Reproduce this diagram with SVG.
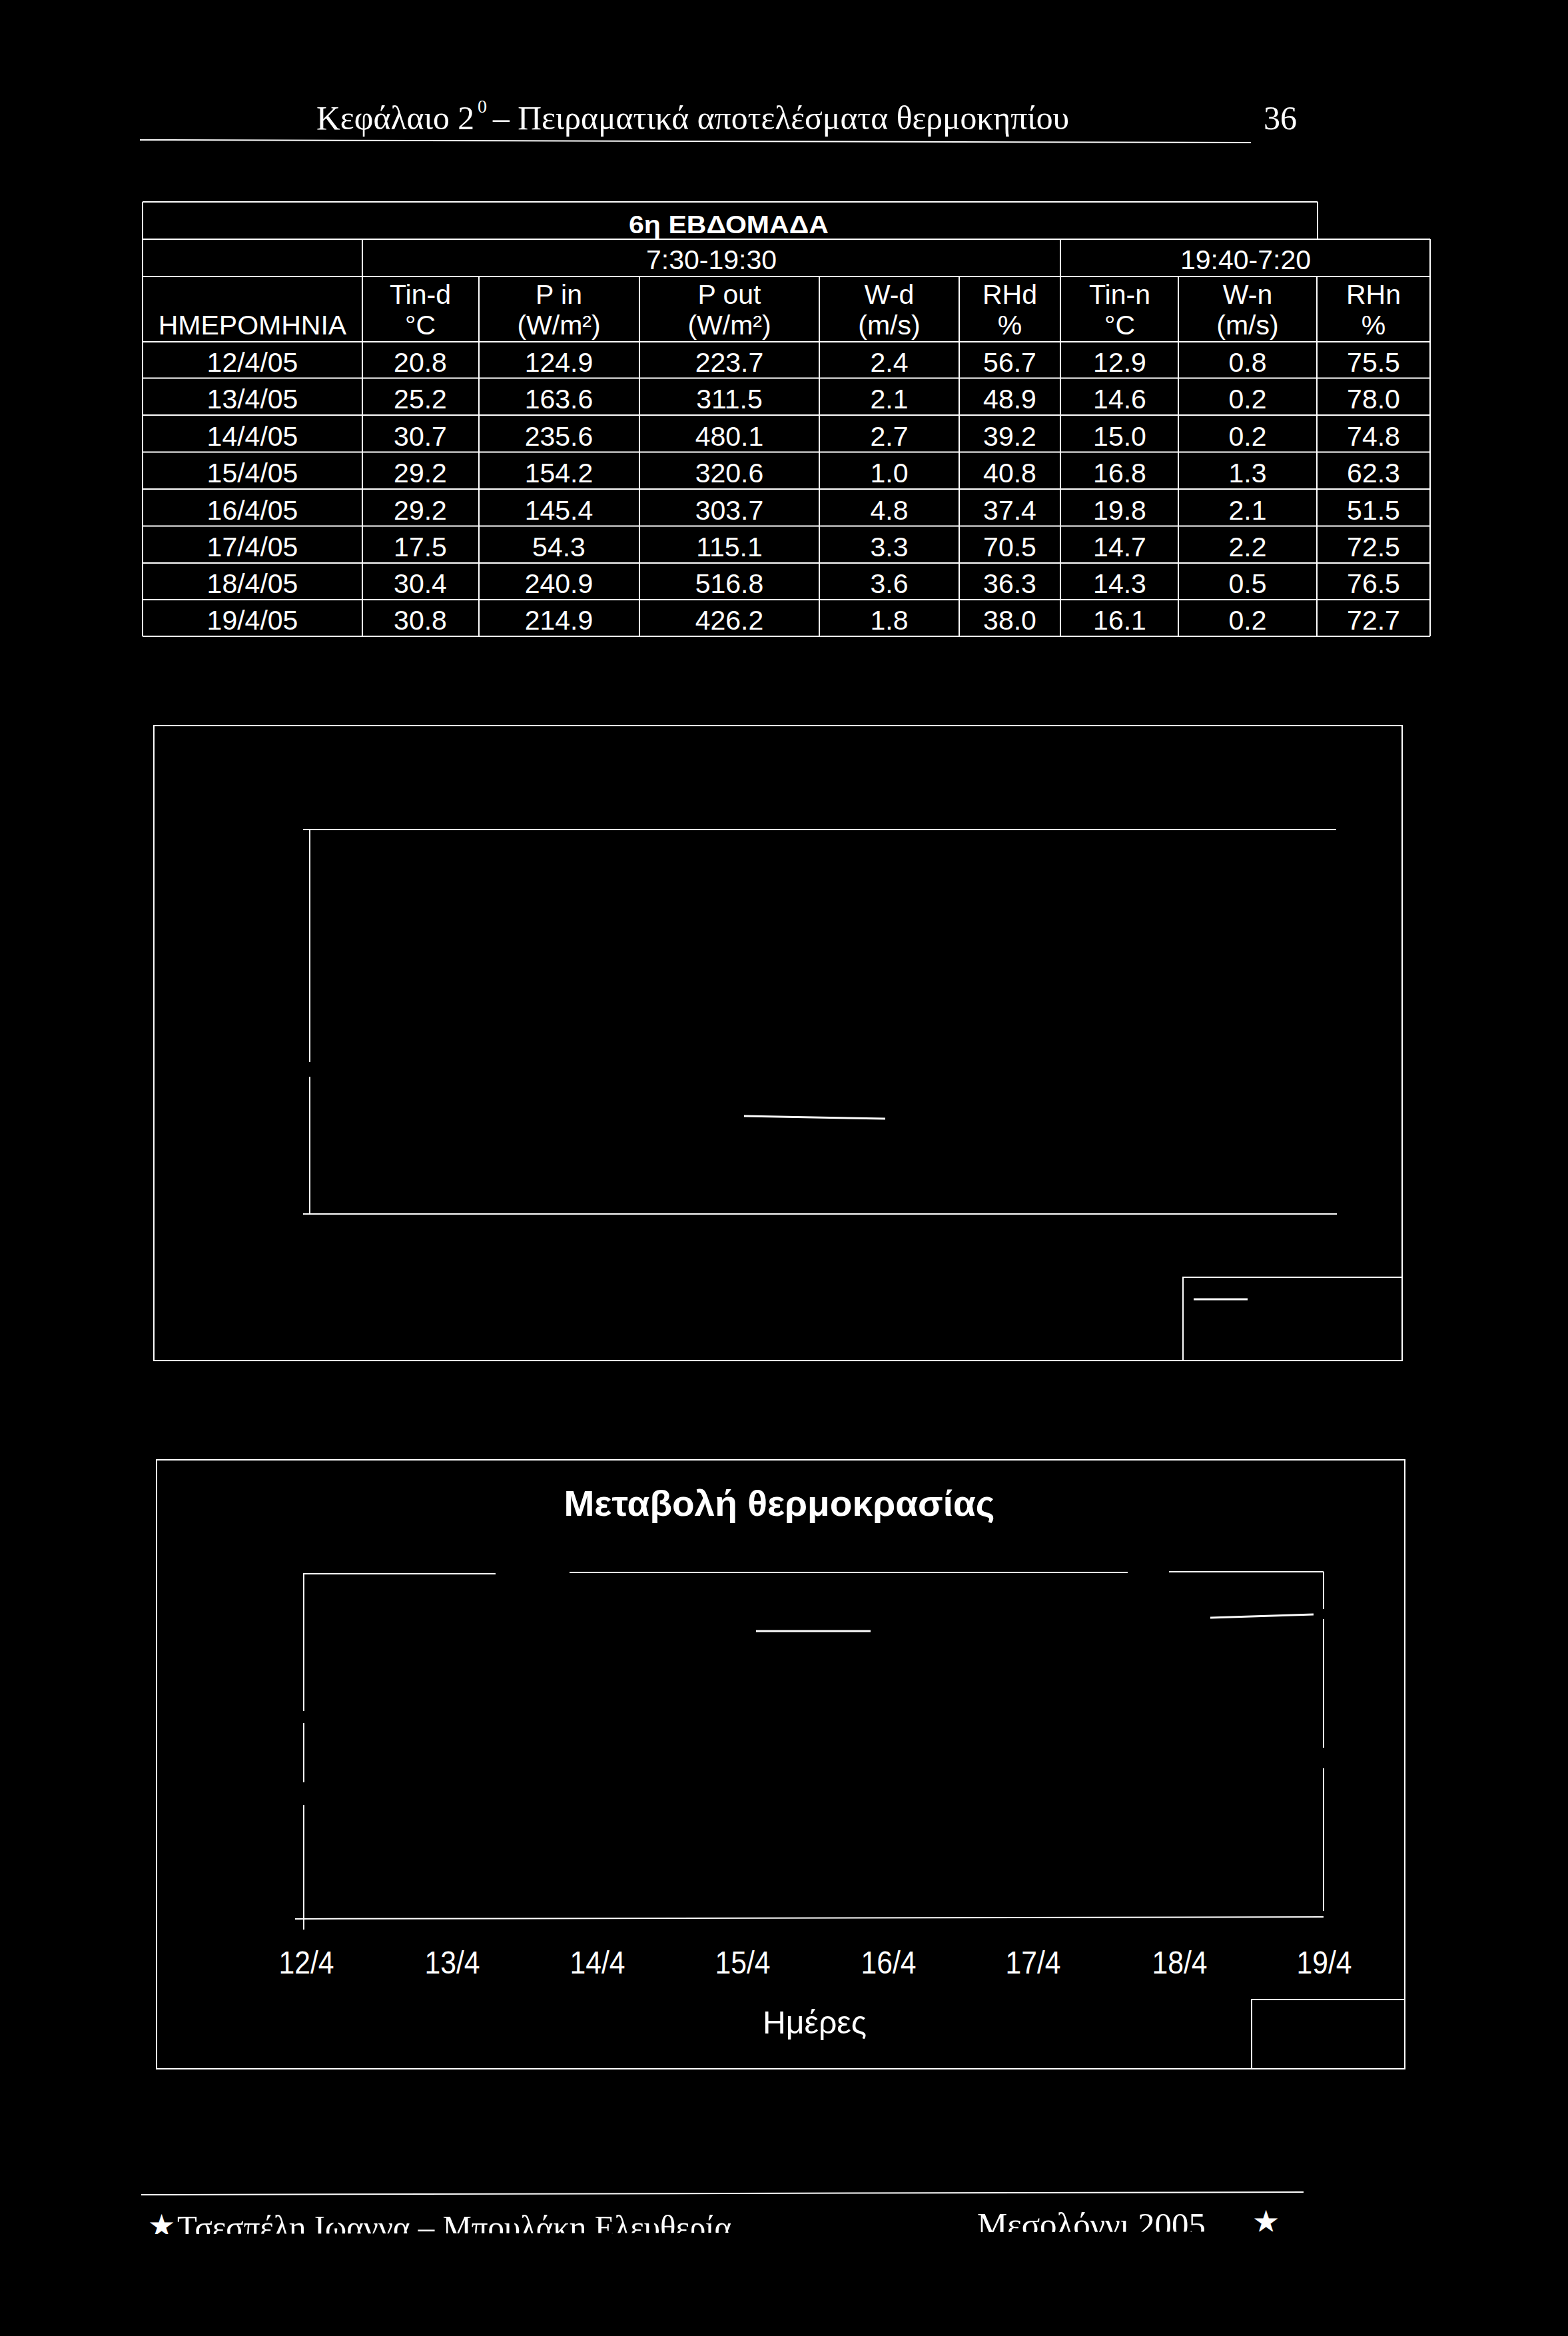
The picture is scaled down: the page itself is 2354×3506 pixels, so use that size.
<svg xmlns="http://www.w3.org/2000/svg" width="2354" height="3506" viewBox="0 0 2354 3506">
<style>
.ln{stroke:#fff;stroke-width:2;fill:none}
.ln3{stroke:#fff;stroke-width:3;fill:none}
.serif{font-family:"Liberation Serif","Times New Roman",serif;fill:#fff}
.t{font-family:"Liberation Sans",Arial,sans-serif;fill:#fff;font-size:41px;text-anchor:middle}
.tb{font-family:"Liberation Sans",Arial,sans-serif;fill:#fff;font-weight:bold;text-anchor:middle}
.ax{font-family:"Liberation Sans",Arial,sans-serif;fill:#fff;font-size:48px}
.star{font-family:"DejaVu Sans",sans-serif;fill:#fff;font-size:46px}
</style>
<defs>
<clipPath id="footclip"><polygon points="200,3270 2000,3270 2000,3349 200,3353"/></clipPath>
</defs>
<rect x="0" y="0" width="2354" height="3506" fill="#000"/>

<g id="page-header">
<text class="serif" x="475" y="194" font-size="50" textLength="237" lengthAdjust="spacingAndGlyphs">Κεφάλαιο 2</text>
<text class="serif" x="717" y="169" font-size="28">0</text>
<text class="serif" x="740" y="194" font-size="50" textLength="865" lengthAdjust="spacingAndGlyphs">– Πειραματικά αποτελέσματα θερμοκηπίου</text>
<text class="serif" x="1897" y="194" font-size="50">36</text>
<line class="ln" x1="210" y1="210" x2="1878" y2="214" stroke-width="3"/>
</g>

<g id="table">
<g id="table-grid">
<line class="ln" x1="214" y1="303" x2="1978" y2="303"/>
<line class="ln" x1="214" y1="359" x2="2147" y2="359"/>
<line class="ln" x1="214" y1="415" x2="2147" y2="415"/>
<line class="ln" x1="214" y1="513" x2="2147" y2="513"/>
<line class="ln" x1="214" y1="567.5" x2="2147" y2="567.5"/>
<line class="ln" x1="214" y1="623" x2="2147" y2="623"/>
<line class="ln" x1="214" y1="678.5" x2="2147" y2="678.5"/>
<line class="ln" x1="214" y1="734" x2="2147" y2="734"/>
<line class="ln" x1="214" y1="789.5" x2="2147" y2="789.5"/>
<line class="ln" x1="214" y1="845" x2="2147" y2="845"/>
<line class="ln" x1="214" y1="900" x2="2147" y2="900"/>
<line class="ln" x1="214" y1="955" x2="2147" y2="955"/>
<line class="ln" x1="214" y1="303" x2="214" y2="955"/>
<line class="ln" x1="1978" y1="303" x2="1978" y2="359"/>
<line class="ln" x1="2147" y1="359" x2="2147" y2="955"/>
<line class="ln" x1="544" y1="359" x2="544" y2="955"/>
<line class="ln" x1="1592" y1="359" x2="1592" y2="955"/>
<line class="ln" x1="719" y1="415" x2="719" y2="955"/>
<line class="ln" x1="960" y1="415" x2="960" y2="955"/>
<line class="ln" x1="1230" y1="415" x2="1230" y2="955"/>
<line class="ln" x1="1440" y1="415" x2="1440" y2="955"/>
<line class="ln" x1="1769" y1="415" x2="1769" y2="955"/>
<line class="ln" x1="1977" y1="415" x2="1977" y2="955"/>
</g>
<g id="table-head">
<text class="tb" x="1094" y="350" font-size="37" textLength="300" lengthAdjust="spacingAndGlyphs">6η ΕΒΔΟΜΑΔΑ</text>
<text class="t" x="1068" y="404">7:30-19:30</text>
<text class="t" x="1870" y="404">19:40-7:20</text>
<text class="t" x="379" y="502">ΗΜΕΡΟΜΗΝΙΑ</text>
<text class="t" x="631" y="456">Tin-d</text><text class="t" x="631" y="502">°C</text>
<text class="t" x="839" y="456">P in</text><text class="t" x="839" y="502">(W/m²)</text>
<text class="t" x="1095" y="456">P out</text><text class="t" x="1095" y="502">(W/m²)</text>
<text class="t" x="1335" y="456">W-d</text><text class="t" x="1335" y="502">(m/s)</text>
<text class="t" x="1516" y="456">RHd</text><text class="t" x="1516" y="502">%</text>
<text class="t" x="1681" y="456">Tin-n</text><text class="t" x="1681" y="502">°C</text>
<text class="t" x="1873" y="456">W-n</text><text class="t" x="1873" y="502">(m/s)</text>
<text class="t" x="2062" y="456">RHn</text><text class="t" x="2062" y="502">%</text>
</g>
<g id="table-body">
<g transform="translate(0,557.5)">
<text class="t" x="379">12/4/05</text><text class="t" x="631">20.8</text><text class="t" x="839">124.9</text><text class="t" x="1095">223.7</text><text class="t" x="1335">2.4</text><text class="t" x="1516">56.7</text><text class="t" x="1681">12.9</text><text class="t" x="1873">0.8</text><text class="t" x="2062">75.5</text>
</g>
<g transform="translate(0,613)">
<text class="t" x="379">13/4/05</text><text class="t" x="631">25.2</text><text class="t" x="839">163.6</text><text class="t" x="1095">311.5</text><text class="t" x="1335">2.1</text><text class="t" x="1516">48.9</text><text class="t" x="1681">14.6</text><text class="t" x="1873">0.2</text><text class="t" x="2062">78.0</text>
</g>
<g transform="translate(0,668.5)">
<text class="t" x="379">14/4/05</text><text class="t" x="631">30.7</text><text class="t" x="839">235.6</text><text class="t" x="1095">480.1</text><text class="t" x="1335">2.7</text><text class="t" x="1516">39.2</text><text class="t" x="1681">15.0</text><text class="t" x="1873">0.2</text><text class="t" x="2062">74.8</text>
</g>
<g transform="translate(0,724)">
<text class="t" x="379">15/4/05</text><text class="t" x="631">29.2</text><text class="t" x="839">154.2</text><text class="t" x="1095">320.6</text><text class="t" x="1335">1.0</text><text class="t" x="1516">40.8</text><text class="t" x="1681">16.8</text><text class="t" x="1873">1.3</text><text class="t" x="2062">62.3</text>
</g>
<g transform="translate(0,779.5)">
<text class="t" x="379">16/4/05</text><text class="t" x="631">29.2</text><text class="t" x="839">145.4</text><text class="t" x="1095">303.7</text><text class="t" x="1335">4.8</text><text class="t" x="1516">37.4</text><text class="t" x="1681">19.8</text><text class="t" x="1873">2.1</text><text class="t" x="2062">51.5</text>
</g>
<g transform="translate(0,835)">
<text class="t" x="379">17/4/05</text><text class="t" x="631">17.5</text><text class="t" x="839">54.3</text><text class="t" x="1095">115.1</text><text class="t" x="1335">3.3</text><text class="t" x="1516">70.5</text><text class="t" x="1681">14.7</text><text class="t" x="1873">2.2</text><text class="t" x="2062">72.5</text>
</g>
<g transform="translate(0,890)">
<text class="t" x="379">18/4/05</text><text class="t" x="631">30.4</text><text class="t" x="839">240.9</text><text class="t" x="1095">516.8</text><text class="t" x="1335">3.6</text><text class="t" x="1516">36.3</text><text class="t" x="1681">14.3</text><text class="t" x="1873">0.5</text><text class="t" x="2062">76.5</text>
</g>
<g transform="translate(0,945)">
<text class="t" x="379">19/4/05</text><text class="t" x="631">30.8</text><text class="t" x="839">214.9</text><text class="t" x="1095">426.2</text><text class="t" x="1335">1.8</text><text class="t" x="1516">38.0</text><text class="t" x="1681">16.1</text><text class="t" x="1873">0.2</text><text class="t" x="2062">72.7</text>
</g>
</g>
</g>

<g id="chart1">
<rect class="ln" x="231" y="1089" width="1874" height="953"/>
<g id="chart1-plot">
<line class="ln" x1="455" y1="1245" x2="2006" y2="1245"/>
<line class="ln" x1="455" y1="1822" x2="2007" y2="1822"/>
<line class="ln" x1="465" y1="1245" x2="465" y2="1594"/>
<line class="ln" x1="465" y1="1616" x2="465" y2="1822"/>
<line class="ln3" x1="1117" y1="1675" x2="1329" y2="1679"/>
</g>
<g id="chart1-legend">
<polyline class="ln" points="1776,2042 1776,1917 2105,1917"/>
<line class="ln3" x1="1792" y1="1950" x2="1873" y2="1950"/>
</g>
</g>

<g id="chart2">
<rect class="ln" x="235" y="2191" width="1874" height="914"/>
<text class="tb" x="1170" y="2275" font-size="54" textLength="647" lengthAdjust="spacingAndGlyphs">Μεταβολή θερμοκρασίας</text>
<g id="chart2-plot">
<line class="ln" x1="455" y1="2362" x2="744" y2="2362"/>
<line class="ln" x1="855" y1="2360" x2="1693" y2="2360"/>
<line class="ln" x1="1755" y1="2359" x2="1987" y2="2359"/>
<line class="ln" x1="1987" y1="2359" x2="1987" y2="2415"/>
<line class="ln" x1="1987" y1="2430" x2="1987" y2="2623"/>
<line class="ln" x1="1987" y1="2654" x2="1987" y2="2868"/>
<line class="ln" x1="456" y1="2362" x2="456" y2="2568"/>
<line class="ln" x1="456" y1="2586" x2="456" y2="2675"/>
<line class="ln" x1="456" y1="2709" x2="456" y2="2896"/>
<line class="ln" x1="443" y1="2880" x2="1987" y2="2877"/>
<line class="ln3" x1="1135" y1="2448" x2="1307" y2="2448"/>
<line class="ln3" x1="1817" y1="2428" x2="1972" y2="2423"/>
</g>
<g id="chart2-axis">
<text class="ax" x="460" y="2962" text-anchor="middle" textLength="83" lengthAdjust="spacingAndGlyphs">12/4</text>
<text class="ax" x="679" y="2962" text-anchor="middle" textLength="83" lengthAdjust="spacingAndGlyphs">13/4</text>
<text class="ax" x="897" y="2962" text-anchor="middle" textLength="83" lengthAdjust="spacingAndGlyphs">14/4</text>
<text class="ax" x="1115" y="2962" text-anchor="middle" textLength="83" lengthAdjust="spacingAndGlyphs">15/4</text>
<text class="ax" x="1334" y="2962" text-anchor="middle" textLength="83" lengthAdjust="spacingAndGlyphs">16/4</text>
<text class="ax" x="1551" y="2962" text-anchor="middle" textLength="83" lengthAdjust="spacingAndGlyphs">17/4</text>
<text class="ax" x="1771" y="2962" text-anchor="middle" textLength="83" lengthAdjust="spacingAndGlyphs">18/4</text>
<text class="ax" x="1988" y="2962" text-anchor="middle" textLength="83" lengthAdjust="spacingAndGlyphs">19/4</text>
<text class="ax" x="1223" y="3052" text-anchor="middle" font-size="52" textLength="156" lengthAdjust="spacingAndGlyphs">Ημέρες</text>
</g>
<g id="chart2-legend">
<polyline class="ln" points="1879,3105 1879,3001 2109,3001"/>
</g>
</g>

<g id="page-footer">
<line class="ln" x1="212" y1="3294" x2="1957" y2="3290" stroke-width="3"/>
<g clip-path="url(#footclip)">
<text class="star" x="222" y="3356">★</text>
<text class="serif" x="266" y="3360" font-size="51" textLength="832" lengthAdjust="spacingAndGlyphs">Τσεσπέλη Ιωαννα – Μπουλάκη Ελευθερία</text>
<text class="serif" x="1467" y="3356" font-size="51" textLength="343" lengthAdjust="spacingAndGlyphs">Μεσολόγγι 2005</text>
<text class="star" x="1880" y="3350">★</text>
</g>
</g>
</svg>
